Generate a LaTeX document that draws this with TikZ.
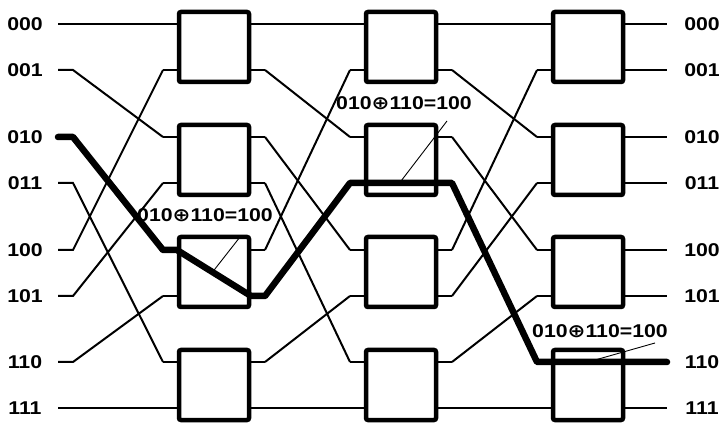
\documentclass[tikz,border=0pt]{standalone}
\usepackage{fontspec}
\setmainfont{Liberation Sans}
\newfontfamily\oplusfont{DejaVu Sans}
\usepackage{tikz}
\usetikzlibrary{calc}
\tikzset{
  swbox/.style={draw, line width=4.5pt, minimum width=70pt, minimum height=70pt, inner sep=0, rounded corners=2pt},
  wire/.style={line width=2pt},
  route/.style={line width=6.5pt, line join=round, line cap=round},
  bits/.style={font=\fontsize{18.5}{18.5}\selectfont\bfseries, xscale=1.15, inner sep=0},
  pointer/.style={line width=.9pt}
}

\begin{document}
\begin{tikzpicture}[x=1pt,y=-1pt]
\useasboundingbox (0,0) rectangle (720,427);
\foreach \n/\y/\b in {0/24/000,1/70/001,2/137/010,3/183/011,4/250/100,5/296/101,6/362/110,7/408/111} {
  \coordinate (in\n) at (58,\y);
  \coordinate (ins\n) at (73,\y);
  \coordinate (out\n) at (667,\y);
  \node[bits] (lab\n) at (25,\y) {\b};
  \node[bits] (rab\n) at (702,\y) {\b};
}
\foreach \s/\x in {1/214,2/401,3/588} {
  \foreach \n/\y in {0/24,1/70,2/137,3/183,4/250,5/296,6/362,7/408} {
    \coordinate (i\s-\n) at (\x-51,\y);
    \coordinate (e\s-\n) at (\x-37,\y);
    \coordinate (f\s-\n) at (\x+37,\y);
    \coordinate (o\s-\n) at (\x+51,\y);
    \draw[wire] (i\s-\n) -- (e\s-\n);
    \draw[wire] (f\s-\n) -- (o\s-\n);
  }
  \foreach \k/\y in {0/47,1/160,2/272,3/385} {
    \node[swbox] (b\s\k) at (\x,\y) {};
  }
}
% perfect shuffle between the stages
\foreach \n in {0,...,7} {
  \pgfmathtruncatemacro\m{mod(2*\n,8)+int(\n/4)}
  \draw[wire] (in\n) -- (ins\n) -- (i1-\m);
  \draw[wire] (o1-\n) -- (i2-\m);
  \draw[wire] (o2-\n) -- (i3-\m);
  \draw[wire] (o3-\n) -- (out\n);
}
\draw[route] (in2) -- (ins2) -- (i1-4) -- (e1-4) -- (f1-5) -- (o1-5) -- (i2-3)
  -- (e2-3) -- (f2-3) -- (o2-3) -- (i3-6) -- (e3-6) -- (f3-6) -- (out6);
\coordinate (p1) at ($(e1-4)!.48!(f1-5)$);
\coordinate (p2) at ($(e2-3)!.48!(f2-3)$);
\coordinate (p3) at ($(e3-6)!.5!(f3-6)$);
\coordinate (q1) at (240,237);
\coordinate (q2) at (447,121);
\coordinate (q3) at (655,343);
\node[bits] (sum1) at (205,215) {010{\oplusfont⊕}110=100};
\node[bits] (sum2) at (404,103) {010{\oplusfont⊕}110=100};
\node[bits] (sum3) at (600,331) {010{\oplusfont⊕}110=100};
\draw[pointer] (q1) -- (p1);
\draw[pointer] (q2) -- (p2);
\draw[pointer] (q3) -- (p3);
\end{tikzpicture}
\end{document}
